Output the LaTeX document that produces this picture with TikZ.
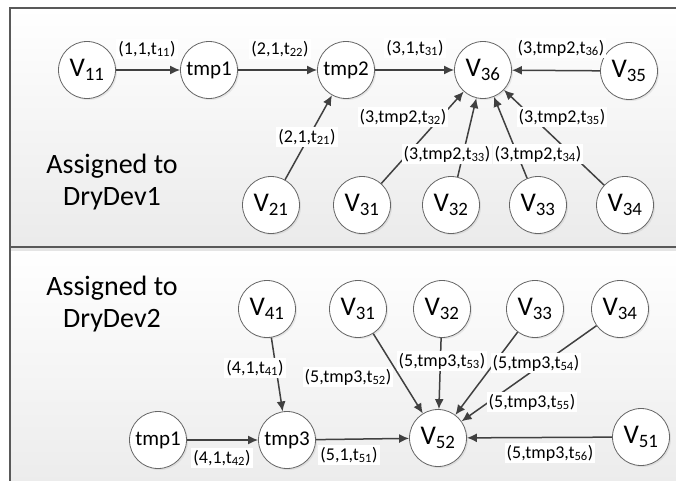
\documentclass[tikz,border=0pt]{standalone}
\usepackage{fontspec}
\setmainfont{Carlito}
\usetikzlibrary{arrows.meta,shadows}

\begin{document}
\begin{tikzpicture}[x=1pt,y=-1pt,
  vtx/.style={circle,draw=black!60,fill=white,line width=0.8pt,minimum size=57pt,inner sep=0pt,
    drop shadow={opacity=0.15,shadow xshift=1.5pt,shadow yshift=-1.5pt},
    font=\fontsize{27}{30}\selectfont},
  tmpv/.style={vtx,font=\fontsize{21}{24}\selectfont},
  link/.style={draw=black!75,line width=1.5pt,-{Latex[length=10pt,width=9pt]}},
  elab/.style={fill=white,inner sep=2pt,font=\fontsize{18}{20}\selectfont},
  panel/.style={draw=black!65,line width=1.3pt,top color=white,bottom color=black!8},
  devtxt/.style={align=center,font=\fontsize{28}{32}\selectfont}]
  \useasboundingbox (0,0) rectangle (676,480);
  \clip (0,0) rectangle (676,480);
  % Panels
  \path[panel] (10,8) rectangle (700,247);
  \path[panel] (10,247) rectangle (700,500);
  \fill[black!10] (11,248) rectangle (700,251);
  \node[devtxt] (dev1) at (112,182) {Assigned to\\DryDev1};
  \node[devtxt] (dev2) at (112,304) {Assigned to\\DryDev2};

  % Upper panel: nodes
  \node[vtx]  (v11)  at (87,70)   {V\textsubscript{11}};
  \node[tmpv] (tmp1) at (209,70)  {tmp1};
  \node[tmpv] (tmp2) at (346,70)  {tmp2};
  \node[vtx]  (v36)  at (483,70)  {V\textsubscript{36}};
  \node[vtx]  (v35)  at (629,71)  {V\textsubscript{35}};
  \node[vtx]  (v21)  at (271,205) {V\textsubscript{21}};
  \node[vtx]  (v31)  at (362,205) {V\textsubscript{31}};
  \node[vtx]  (v32)  at (451,205) {V\textsubscript{32}};
  \node[vtx]  (v33)  at (538,205) {V\textsubscript{33}};
  \node[vtx]  (v34)  at (625,205) {V\textsubscript{34}};
  % Upper panel: edges
  \draw[link] (v11) -- (tmp1);
  \draw[link] (tmp1) -- (tmp2);
  \draw[link] (tmp2) -- (v36);
  \draw[link] (v35) -- (v36);
  \draw[link] (v21) -- (tmp2);
  \draw[link] (v31) -- (v36);
  \draw[link] (v32) -- (v36);
  \draw[link] (v33) -- (v36);
  \draw[link] (v34) -- (v36);
  % Upper panel: labels
  \node[elab] at (147,49)  {(1,1,t\textsubscript{11})};
  \node[elab] at (280,49)  {(2,1,t\textsubscript{22})};
  \node[elab] at (415,48)  {(3,1,t\textsubscript{31})};
  \node[elab] at (561,48)  {(3,tmp2,t\textsubscript{36})};
  \node[elab] at (307,137) {(2,1,t\textsubscript{21})};
  \node[elab] at (403,117) {(3,tmp2,t\textsubscript{32})};
  \node[elab] at (562,117) {(3,tmp2,t\textsubscript{35})};
  \node[elab] at (447,154) {(3,tmp2,t\textsubscript{33})};
  \node[elab] at (538,154) {(3,tmp2,t\textsubscript{34})};

  % Lower panel: nodes
  \node[vtx]  (bv41)  at (267,309) {V\textsubscript{41}};
  \node[vtx]  (bv31)  at (358,309) {V\textsubscript{31}};
  \node[vtx]  (bv32)  at (442,309) {V\textsubscript{32}};
  \node[vtx]  (bv33)  at (535,309) {V\textsubscript{33}};
  \node[vtx]  (bv34)  at (620,309) {V\textsubscript{34}};
  \node[tmpv] (btmp1) at (158,440) {tmp1};
  \node[tmpv] (btmp3) at (287,440) {tmp3};
  \node[vtx]  (bv52)  at (438,438) {V\textsubscript{52}};
  \node[vtx]  (bv51)  at (641,437) {V\textsubscript{51}};
  % Lower panel: edges
  \draw[link] (bv41) -- (btmp3);
  \draw[link] (btmp1) -- (btmp3);
  \draw[link] (btmp3) -- (bv52);
  \draw[link] (bv51) -- (bv52);
  \draw[link] (bv31) -- (bv52);
  \draw[link] (bv32) -- (bv52);
  \draw[link] (bv33) -- (bv52);
  \draw[link] (bv34) -- (bv52);
  % Lower panel: labels
  \node[elab] at (255,368) {(4,1,t\textsubscript{41})};
  \node[elab] at (222,458) {(4,1,t\textsubscript{42})};
  \node[elab] at (349,455) {(5,1,t\textsubscript{51})};
  \node[elab] at (550,453) {(5,tmp3,t\textsubscript{56})};
  \node[elab] at (348,377) {(5,tmp3,t\textsubscript{52})};
  \node[elab] at (442,361) {(5,tmp3,t\textsubscript{53})};
  \node[elab] at (536,363) {(5,tmp3,t\textsubscript{54})};
  \node[elab] at (532,402) {(5,tmp3,t\textsubscript{55})};
\end{tikzpicture}
\end{document}
